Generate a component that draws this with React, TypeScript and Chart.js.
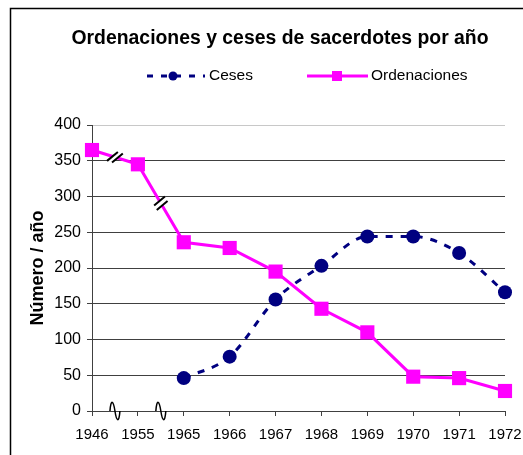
import React, { useEffect, useRef } from "react";
import { Chart, registerables } from "chart.js";

Chart.register(...registerables);

const categories = ["1946", "1955", "1965", "1966", "1967", "1968", "1969", "1970", "1971", "1972"];
const ordenaciones = [365, 345, 236, 228, 195, 143, 110, 48, 46, 28];
const ceses = [null, null, 46, 76, 156, 203, 244, 244, 221, 166];
const yMin = 0;
const yMax = 400;
const yStep = 50;
const breakAfter = [0, 1];
const titleText = "Ordenaciones y ceses de sacerdotes por año";
const yTitle = "Número / año";
const legendCeses = "Ceses";
const legendOrd = "Ordenaciones";

const FONT = "'Liberation Sans', Arial, sans-serif";
const NAVY = "#000080";
const MAGENTA = "#FF00FF";

const decorPlugin = {
  id: "decor",
  beforeDraw(chart: any) {
    const ctx = chart.ctx;
    ctx.save();
    ctx.fillStyle = "#fff";
    ctx.fillRect(0, 0, chart.width, chart.height);
    ctx.strokeStyle = "#000";
    ctx.lineWidth = 1.5;
    ctx.beginPath();
    ctx.moveTo(10.5, chart.height);
    ctx.lineTo(10.5, 8.5);
    ctx.lineTo(chart.width, 8.5);
    ctx.stroke();
    ctx.restore();
  },
  afterDatasetsDraw(chart: any) {
    const ctx = chart.ctx;
    const xs = chart.scales.x;
    const ys = chart.scales.y;
    ctx.save();
    breakAfter.forEach((i) => {
      const x0 = xs.getPixelForValue(i);
      const x1 = xs.getPixelForValue(i + 1);
      const y0 = ys.getPixelForValue(ordenaciones[i]);
      const y1 = ys.getPixelForValue(ordenaciones[i + 1]);
      const mx = (x0 + x1) / 2;
      const my = (y0 + y1) / 2;
      const len = Math.hypot(x1 - x0, y1 - y0);
      const ux = (x1 - x0) / len;
      const uy = (y1 - y0) / len;
      const ang = -Math.PI * 0.22;
      const dx = Math.cos(ang) * 7;
      const dy = Math.sin(ang) * 7;
      const off = 2.6;
      ctx.fillStyle = "#fff";
      ctx.beginPath();
      ctx.moveTo(mx - ux * off - dx, my - uy * off - dy);
      ctx.lineTo(mx - ux * off + dx, my - uy * off + dy);
      ctx.lineTo(mx + ux * off + dx, my + uy * off + dy);
      ctx.lineTo(mx + ux * off - dx, my + uy * off - dy);
      ctx.closePath();
      ctx.fill();
      ctx.strokeStyle = "#000";
      ctx.lineWidth = 2;
      [-off, off].forEach((o) => {
        ctx.beginPath();
        ctx.moveTo(mx + ux * o - dx, my + uy * o - dy);
        ctx.lineTo(mx + ux * o + dx, my + uy * o + dy);
        ctx.stroke();
      });
      const by = ys.getPixelForValue(0);
      ctx.lineWidth = 1.5;
      ctx.beginPath();
      ctx.moveTo(mx - 5, by);
      ctx.bezierCurveTo(mx - 4, by - 13, mx - 1.5, by - 10, mx, by);
      ctx.bezierCurveTo(mx + 1.5, by + 10, mx + 4, by + 13, mx + 5, by);
      ctx.stroke();
    });
    ctx.restore();
  },
  afterDraw(chart: any) {
    const ctx = chart.ctx;
    ctx.save();
    ctx.fillStyle = "#000";
    ctx.textBaseline = "middle";
    ctx.textAlign = "center";
    ctx.font = `bold 19.4px ${FONT}`;
    ctx.fillText(titleText, 280, 39);

    const ly = 76;
    ctx.font = `15.5px ${FONT}`;
    ctx.textAlign = "left";
    ctx.strokeStyle = NAVY;
    ctx.lineWidth = 3;
    ctx.setLineDash([6, 8]);
    ctx.beginPath();
    ctx.moveTo(147, ly);
    ctx.lineTo(205, ly);
    ctx.stroke();
    ctx.setLineDash([]);
    ctx.fillStyle = NAVY;
    ctx.beginPath();
    ctx.arc(173, ly, 4.5, 0, Math.PI * 2);
    ctx.fill();
    ctx.fillStyle = "#000";
    ctx.fillText(legendCeses, 209, ly);
    ctx.strokeStyle = MAGENTA;
    ctx.beginPath();
    ctx.moveTo(307, ly);
    ctx.lineTo(368, ly);
    ctx.stroke();
    ctx.fillStyle = MAGENTA;
    ctx.fillRect(332, ly - 5, 10, 10);
    ctx.fillStyle = "#000";
    ctx.fillText(legendOrd, 371, ly);
    ctx.restore();
  },
};

export default function App() {
  const ref = useRef<HTMLCanvasElement | null>(null);
  useEffect(() => {
    if (!ref.current) return;
    const chart = new Chart(ref.current, {
      type: "line",
      data: {
        labels: categories,
        datasets: [
          {
            label: legendCeses,
            data: ceses,
            borderColor: NAVY,
            backgroundColor: NAVY,
            borderWidth: 3,
            borderDash: [7, 8],
            cubicInterpolationMode: "monotone",
            pointStyle: "circle",
            pointRadius: 7,
            pointHoverRadius: 7,
            pointBorderWidth: 0,
            fill: false,
          },
          {
            label: legendOrd,
            data: ordenaciones,
            borderColor: MAGENTA,
            backgroundColor: MAGENTA,
            borderWidth: 3,
            tension: 0,
            pointStyle: "rect",
            pointRadius: 10,
            pointHoverRadius: 10,
            pointBorderWidth: 0,
            fill: false,
          },
        ],
      },
      options: {
        responsive: false,
        animation: false,
        layout: { padding: { top: 125, right: 0, left: 0, bottom: 0 } },
        plugins: {
          legend: { display: false },
          title: { display: false },
          tooltip: { enabled: false },
        },
        scales: {
          x: {
            offset: false,
            grid: {
              display: true,
              drawOnChartArea: false,
              drawTicks: true,
              tickLength: 5,
              color: "#404040",
            },
            border: { display: true, color: "#404040", width: 1 },
            ticks: {
              color: "#000",
              font: { family: FONT, size: 15 },
              padding: 10,
              maxRotation: 0,
              autoSkip: false,
            },
            afterFit(scale: any) {
              scale.height = 44;
              scale.paddingRight = 18;
              scale.paddingLeft = 0;
            },
          },
          y: {
            min: yMin,
            max: yMax,
            ticks: {
              stepSize: yStep,
              color: "#000",
              font: { family: FONT, size: 16 },
              padding: 6,
            },
            grid: {
              color: (c: any) => (c.tick && c.tick.value === yMax ? "#c8c8c8" : "#404040"),
              tickColor: "#404040",
              tickLength: 5,
            },
            border: { display: true, color: "#404040", width: 1 },
            title: {
              display: true,
              text: yTitle,
              color: "#000",
              font: { family: FONT, size: 18, weight: "bold" },
              padding: { top: 27, bottom: 0 },
            },
            afterFit(scale: any) {
              scale.width = 92;
            },
          },
        },
      },
      plugins: [decorPlugin],
    });
    return () => chart.destroy();
  }, []);
  return (
    <div style={{ position: "absolute", left: 0, top: 0, width: 523, height: 455 }}>
      <canvas ref={ref} width={523} height={455} />
    </div>
  );
}
